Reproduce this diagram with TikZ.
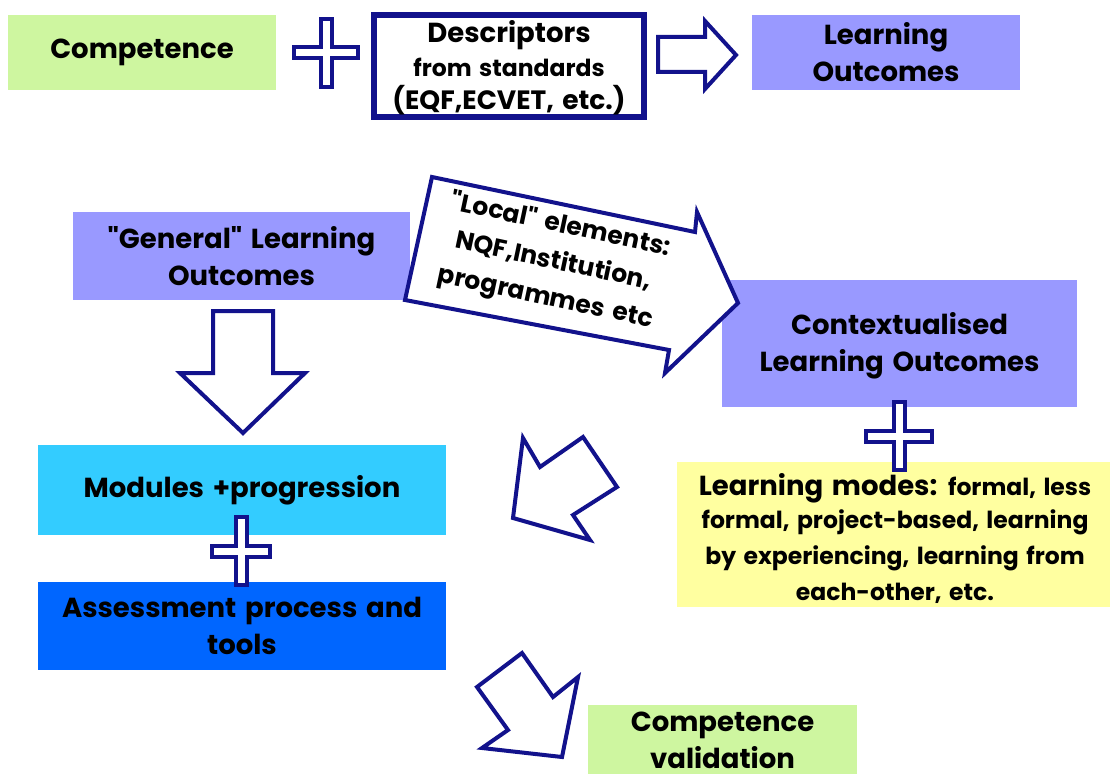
\documentclass[tikz,border=0pt]{standalone}
\usepackage{fontspec}
\setmainfont{Poppins}[WordSpace=1.5, Ligatures=TeXOff]
\definecolor{navy}{RGB}{18,18,140}
\definecolor{peri}{RGB}{153,153,255}
\definecolor{lgreen}{RGB}{206,246,160}
\definecolor{lyellow}{RGB}{255,255,160}
\definecolor{cyanbox}{RGB}{51,204,255}
\definecolor{bluebox}{RGB}{0,102,255}
\newcommand\crossat[5]{\draw[crossline] ({#1-#5},{#2-#4}) -- ({#1+#5},{#2-#4}) -- ({#1+#5},{#2-#5}) -- ({#1+#3},{#2-#5}) -- ({#1+#3},{#2+#5}) -- ({#1+#5},{#2+#5}) -- ({#1+#5},{#2+#4}) -- ({#1-#5},{#2+#4}) -- ({#1-#5},{#2+#5}) -- ({#1-#3},{#2+#5}) -- ({#1-#3},{#2-#5}) -- ({#1-#5},{#2-#5}) -- cycle;}
\newcommand\bigtxt{\fontsize{27.5}{37}\selectfont\bfseries}
\newcommand\smalltxt{\fontsize{23.5}{30}\selectfont\bfseries}
\tikzset{
  box/.style={inner sep=0pt, align=center, font=\bigtxt, text=black},
  blockarrow/.style={draw=navy, line width=4pt, fill=white, line join=miter},
  crossline/.style={draw=navy, line width=4pt, fill=white, line join=miter}
}
\begin{document}
\begin{tikzpicture}[x=1pt,y=-1pt]
\useasboundingbox (0,0) rectangle (1110,773);
\clip (0,0) rectangle (1110,773);
% top row
\node[box, fill=lgreen, minimum width=268pt, minimum height=75pt] (comp) at (142,52.5) {Competence};
\node[box, draw=navy, line width=6pt, fill=white, minimum width=270pt, minimum height=102pt] (desc) at (509,66) {};
\node[box] (desctxt) at (509,68)
  {\bigtxt Descriptors\\[-3pt]\smalltxt from standards\\[-4pt]\fontsize{26.5}{32}\selectfont\bfseries (EQF,ECVET, etc.)};
\node[box, fill=peri, minimum width=268pt, minimum height=75pt] (lo) at (886,52.5) {Learning\\Outcomes};
\crossat{326}{53}{32}{34}{5.5}
\draw[blockarrow] (658,37) -- (705,37) -- (705,21) -- (736,55) -- (705,89) -- (705,72) -- (658,72) -- cycle;
% middle
\node[box, fill=peri, minimum width=337pt, minimum height=88pt] (gen) at (241.5,256) {"General" Learning\\Outcomes};
\node[box, fill=peri, minimum width=355pt, minimum height=127pt] (ctx) at (899.5,343.5) {};
\node[box] (ctxtxt) at (899.5,346) {Contextualised\\Learning Outcomes};
\draw[blockarrow] (432,177) -- (695,232) -- (697,212) -- (738,303) -- (665,373) -- (669,350) -- (405,300) -- cycle;
\node[box, rotate=-12, font=\fontsize{25}{37}\selectfont\bfseries] (local) at (553,262) {"Local" elements:\\NQF,Institution,\\programmes etc};
\draw[blockarrow] (213,311) -- (273,311) -- (273,373) -- (305,373) -- (243,433) -- (180,373) -- (213,373) -- cycle;
% lower
\node[box, fill=cyanbox, minimum width=408pt, minimum height=90pt] (mod) at (242,490) {Modules +progression};
\node[box, fill=bluebox, minimum width=408pt, minimum height=88pt] (ass) at (242,626) {Assessment process and\\tools};
\crossat{241}{551}{29}{34}{5.5}
\node[box, fill=lyellow, minimum width=433pt, minimum height=145pt] (modes) at (893.5,534.5) {};
\node[box] (modestxt) at (895,538)
  {\bigtxt Learning modes: \smalltxt formal, less\\[-4pt]\smalltxt formal, project-based, learning\\[-1pt]\smalltxt by experiencing, learning from\\[-1pt]\smalltxt each-other, etc.};
\crossat{899}{436}{33}{34}{5.5}
\draw[blockarrow] (583,437) -- (617,487) -- (573,515) -- (590,540) -- (513,518) -- (523,438) -- (540,467) -- cycle;
\draw[blockarrow] (522,653) -- (553,697) -- (578,677) -- (562,757) -- (482,748) -- (508,730) -- (477,687) -- cycle;
\node[box, fill=lgreen, minimum width=269pt, minimum height=70pt] (val) at (722.5,740) {Competence\\validation};
\end{tikzpicture}
\end{document}
